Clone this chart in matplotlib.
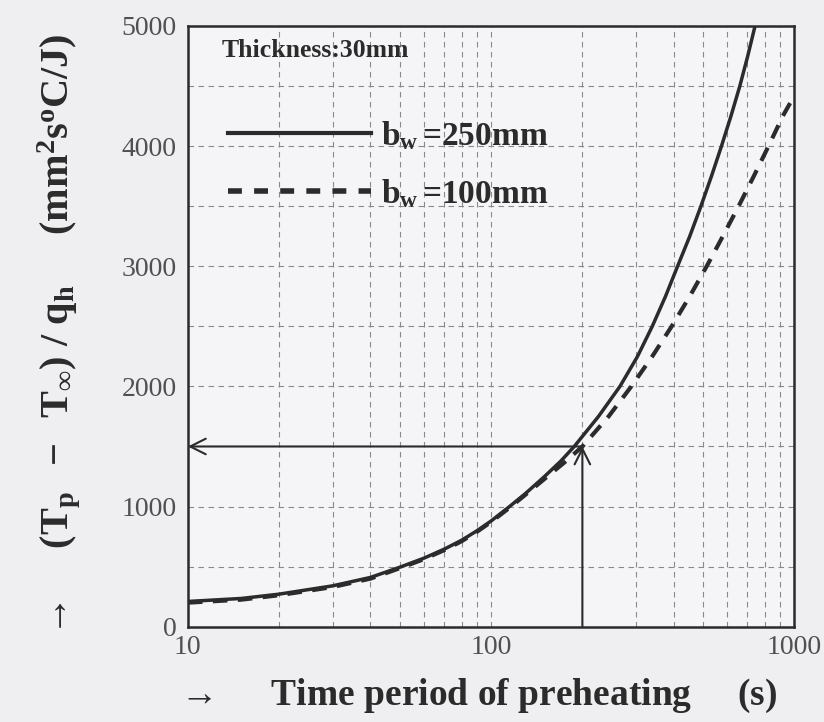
import matplotlib
matplotlib.use("Agg")
import matplotlib.pyplot as plt
from matplotlib.lines import Line2D
from matplotlib.ticker import FixedLocator, MultipleLocator, NullFormatter

# values (solid: b_w = 250 mm, dashed: b_w = 100 mm)
t_250 = [10, 15, 20, 30, 40, 50, 60, 70, 80, 90, 100, 115, 130, 150, 170, 188, 226, 266, 304,
         340, 376, 412, 452, 492, 533, 575, 618, 661, 702, 742]
v_250 = [210, 235, 271, 340, 410, 495, 570, 645, 720, 800, 880, 1000, 1110, 1250, 1380, 1500, 1750, 2000, 2250,
         2500, 2750, 3000, 3250, 3500, 3750, 4000, 4250, 4500, 4750, 5000]

t_100 = [10, 15, 20, 30, 40, 50, 60, 70, 80, 90, 100, 115, 130, 150, 175, 200, 244, 290, 340,
         394, 452, 514, 581, 655, 735, 822, 916, 1000]
v_100 = [200, 225, 262, 330, 400, 487, 562, 637, 712, 792, 872, 990, 1100, 1230, 1370, 1500, 1750, 2000, 2250,
         2500, 2750, 3000, 3250, 3500, 3750, 4000, 4250, 4420]

label_250 = r"b$_{\mathbf{w}}\,$=250mm"
label_100 = r"b$_{\mathbf{w}}\,$=100mm"
title = "Thickness:30mm"

read_t = 200
read_v = 1500

x_ticks = [10, 100, 1000]
y_ticks = [0, 1000, 2000, 3000, 4000, 5000]

plt.rcParams["font.family"] = "Liberation Serif"
plt.rcParams["mathtext.fontset"] = "custom"
plt.rcParams["mathtext.rm"] = "Liberation Serif:bold"
plt.rcParams["mathtext.it"] = "Liberation Serif:bold"
plt.rcParams["mathtext.bf"] = "Liberation Serif:bold"

bg = "#efeff1"
ink = "#2b2b2b"

fig = plt.figure(figsize=(8.24, 7.22), dpi=100, facecolor=bg)
ax = fig.add_axes([0.228, 0.132, 0.736, 0.832], facecolor="#f5f5f7")

ax.set_xscale("log")
ax.set_xlim(10, 1000)
ax.set_ylim(0, 5000)

ax.plot(t_250, v_250, color=ink, lw=2.5, solid_capstyle="butt")
ax.plot(t_100, v_100, color=ink, lw=3.0, dashes=(3.5, 2.5))

# reading arrows
ax.annotate("", xy=(10, read_v), xytext=(read_t, read_v),
            arrowprops=dict(arrowstyle="->", color=ink, lw=1.5, mutation_scale=28, shrinkA=0, shrinkB=0))
ax.annotate("", xy=(read_t, read_v), xytext=(read_t, 0),
            arrowprops=dict(arrowstyle="->", color=ink, lw=1.5, mutation_scale=28, shrinkA=0, shrinkB=0))

ax.xaxis.set_major_locator(FixedLocator(x_ticks))
ax.xaxis.set_minor_locator(FixedLocator([20, 30, 40, 50, 60, 70, 80, 90,
                                         200, 300, 400, 500, 600, 700, 800, 900]))
ax.xaxis.set_minor_formatter(NullFormatter())
ax.set_xticklabels([str(v) for v in x_ticks])
ax.yaxis.set_major_locator(FixedLocator(y_ticks))
ax.yaxis.set_minor_locator(MultipleLocator(500))
ax.set_yticklabels([str(v) for v in y_ticks])

ax.grid(True, which="both", color="#8a8a8a", lw=0.8, ls=(0, (5, 4)))
ax.tick_params(which="both", length=0, labelsize=20, colors="#505050", pad=8)
ax.tick_params(axis="x", pad=6)
for s in ax.spines.values():
    s.set_color(ink)
    s.set_linewidth(1.8)

ax.set_xlabel(r"$\rightarrow$     Time period of preheating     (s)",
              fontsize=27, fontweight="bold", color=ink)
ax.xaxis.set_label_coords(0.475, -0.083)
ax.set_ylabel(r"$\rightarrow$    $(\mathbf{T_p}\;\;-\;\;\mathbf{T_\infty})$ / $\mathbf{q_h}$     "
              r"$(\mathbf{mm^2s^oC/J})$",
              fontsize=29, fontweight="bold", color=ink)
ax.yaxis.set_label_coords(-0.175, 0.481)

ax.text(0.056, 0.96, title, transform=ax.transAxes, fontsize=18.5, fontweight="bold",
        color=ink, ha="left", va="center")

handles = [Line2D([], [], color=ink, lw=3.0),
           Line2D([], [], color=ink, lw=4.0, dashes=(2.5, 2.2))]
leg = ax.legend(handles, [label_250, label_100], loc="upper left", bbox_to_anchor=(0.066, 0.845),
                frameon=False, prop={"size": 24, "weight": "bold"}, handlelength=4.3,
                handletextpad=0.3, labelspacing=0.75, borderpad=0, borderaxespad=0)
for txt in leg.get_texts():
    txt.set_color(ink)

fig.savefig("out.png", dpi=100, facecolor=bg)
